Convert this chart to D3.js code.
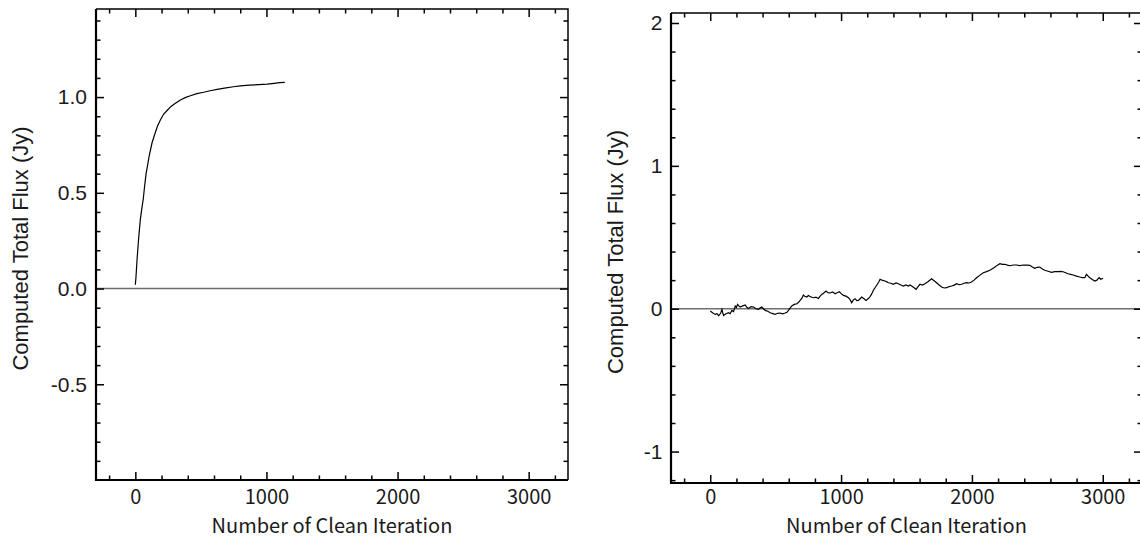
<!DOCTYPE html>
<html lang="en">
<head>
    <meta charset="UTF-8">
    <title>Clean iteration flux</title>
    <script src="https://d3js.org/d3.v7.min.js"></script>
    <style>
        body { margin: 0; background: #fff; }
        svg text { fill: #1a1a1a; }
        .xfont { font-family: "Noto Sans CJK JP", "Noto Sans", sans-serif; font-size: 20px; }
        .yfont { font-family: "Liberation Sans", Arial, sans-serif; font-size: 21px; }
    </style>
</head>
<body>
    <script>
        // left panel: flux converging
        var leftIter = [0, 5, 13, 25, 38, 50, 61, 70, 82, 90, 105, 127, 150, 170, 191, 215, 242, 270, 300, 344,
            380, 420, 470, 520, 570, 624, 680, 748, 800, 870, 940, 1005, 1060, 1100, 1140];
        var leftFlux = [0.02, 0.06, 0.15, 0.26, 0.36, 0.42, 0.47, 0.53, 0.60, 0.63, 0.69, 0.76, 0.81, 0.85, 0.88, 0.91, 0.93, 0.95, 0.965, 0.985,
            0.997, 1.007, 1.018, 1.025, 1.033, 1.040, 1.047, 1.054, 1.058, 1.062, 1.065, 1.068, 1.072, 1.075, 1.077];

        // right panel: flux wandering near zero
        var rightIter = [0, 20, 38, 52, 64, 80, 89, 96, 102, 120, 140, 152, 165, 178, 191, 200, 209, 220, 229, 248, 267, 280, 293, 312,
            331, 350, 369, 382, 394, 408, 420, 440, 458, 478, 496, 515, 534, 553, 573, 586, 598, 610, 623, 642, 662, 675, 687, 700,
            712, 725, 738, 750, 763, 776, 789, 808, 827, 840, 852, 868, 885, 900, 916, 935, 954, 970, 987, 1003, 1018, 1037, 1056,
            1070, 1081, 1094, 1107, 1120, 1132, 1145, 1158, 1175, 1191, 1204, 1216, 1232, 1247, 1262, 1277, 1290, 1298, 1318, 1336,
            1350, 1361, 1380, 1399, 1420, 1438, 1457, 1476, 1495, 1514, 1527, 1539, 1556, 1573, 1588, 1603, 1622, 1641, 1666, 1692,
            1711, 1730, 1749, 1768, 1788, 1807, 1826, 1845, 1864, 1883, 1902, 1921, 1940, 1959, 1978, 1997, 2016, 2036, 2062, 2087,
            2112, 2137, 2157, 2176, 2195, 2214, 2233, 2252, 2271, 2290, 2316, 2341, 2366, 2392, 2418, 2443, 2462, 2481, 2500, 2519,
            2538, 2557, 2582, 2608, 2634, 2659, 2678, 2697, 2716, 2735, 2755, 2774, 2799, 2824, 2844, 2863, 2875, 2888, 2901, 2920,
            2939, 2955, 2972, 2985, 3003];
        var rightFlux = [-0.016, -0.03, -0.04, -0.035, -0.05, -0.03, -0.005, -0.03, -0.047, -0.035, -0.028, -0.035, -0.012, -0.02, 0.019, 0.008, 0.03, 0.018, 0.012, 0.02, 0.026, 0.01, 0.002, 0.015,
            0.012, 0.0, -0.005, 0.006, 0.012, -0.002, -0.012, -0.018, -0.028, -0.034, -0.04, -0.032, -0.03, -0.036, -0.03, -0.025, -0.012, 0.004, 0.019, 0.03, 0.035, 0.045, 0.058, 0.072,
            0.096, 0.085, 0.082, 0.092, 0.086, 0.08, 0.077, 0.081, 0.072, 0.088, 0.10, 0.11, 0.124, 0.112, 0.11, 0.118, 0.105, 0.112, 0.119, 0.104, 0.093, 0.088, 0.077,
            0.062, 0.042, 0.062, 0.07, 0.056, 0.058, 0.07, 0.082, 0.07, 0.058, 0.068, 0.077, 0.1, 0.129, 0.15, 0.171, 0.19, 0.206, 0.198, 0.194,
            0.188, 0.182, 0.178, 0.171, 0.18, 0.175, 0.166, 0.159, 0.166, 0.159, 0.166, 0.159, 0.148, 0.136, 0.155, 0.171, 0.166, 0.175, 0.19, 0.21,
            0.196, 0.182, 0.166, 0.152, 0.145, 0.147, 0.155, 0.159, 0.165, 0.175, 0.168, 0.171, 0.178, 0.182, 0.18, 0.187, 0.2, 0.217, 0.235, 0.252,
            0.26, 0.269, 0.28, 0.292, 0.305, 0.315, 0.31, 0.311, 0.305, 0.301, 0.306, 0.306, 0.302, 0.306, 0.305, 0.304, 0.292, 0.283, 0.29, 0.292,
            0.278, 0.269, 0.262, 0.255, 0.259, 0.259, 0.262, 0.259, 0.252, 0.245, 0.24, 0.236, 0.228, 0.222, 0.218, 0.217, 0.241, 0.228, 0.217, 0.205,
            0.194, 0.2, 0.217, 0.206, 0.213];

        var xMajor = [0, 1000, 2000, 3000];
        var xMinor = [-200, 200, 400, 600, 800, 1200, 1400, 1600, 1800, 2200, 2400, 2600, 2800, 3200];
        var leftYMajor = [-0.5, 0.0, 0.5, 1.0];
        var leftYMinor = [-0.9, -0.8, -0.7, -0.6, -0.4, -0.3, -0.2, -0.1, 0.1, 0.2, 0.3, 0.4, 0.6, 0.7, 0.8, 0.9, 1.1, 1.2, 1.3, 1.4];
        var leftYLabels = ['-0.5', '0.0', '0.5', '1.0'];
        var rightYMajor = [-1, 0, 1, 2];
        var rightYMinor = [-1.2, -0.8, -0.6, -0.4, -0.2, 0.2, 0.4, 0.6, 0.8, 1.2, 1.4, 1.6, 1.8];
        var rightYLabels = ['-1', '0', '1', '2'];

        var xTitle = 'Number of Clean Iteration';
        var yTitle = 'Computed Total Flux (Jy)';

        var svg = d3.select('body')
            .append('svg')
            .attr('width', 1140)
            .attr('height', 542);

        function drawPanel(p) {
            var x = d3.scaleLinear().domain([-300, 3300]).range([p.left, p.right]);
            var y = d3.scaleLinear().domain(p.yDomain).range([p.bottom, p.top]);
            var g = svg.append('g');

            // zero line
            g.append('line')
                .attr('x1', p.left).attr('x2', p.right)
                .attr('y1', y(0)).attr('y2', y(0))
                .attr('stroke', '#6e6e6e')
                .attr('stroke-width', 1.6);

            var line = d3.line()
                .x(function(d) { return x(d[0]); })
                .y(function(d) { return y(d[1]); });

            g.append('path')
                .datum(d3.zip(p.iter, p.flux))
                .attr('d', line)
                .attr('fill', 'none')
                .attr('stroke', '#000')
                .attr('stroke-width', 1.2);

            function addAxis(axis, tx, ty, cls) {
                var a = g.append('g')
                    .attr('transform', 'translate(' + tx + ',' + ty + ')')
                    .call(axis);
                a.select('.domain').remove();
                a.attr('font-family', null).attr('font-size', null);
                a.selectAll('line').attr('stroke', '#000').attr('stroke-width', 1.5);
                a.selectAll('text').attr('class', cls);
                return a;
            }

            // bottom
            addAxis(d3.axisBottom(x).tickValues(xMajor).tickSize(-8).tickPadding(24 - p.bottom + 480).tickFormat(d3.format('d')), 0, p.bottom, 'xfont')
                .selectAll('text').attr('dy', null);
            addAxis(d3.axisBottom(x).tickValues(xMinor).tickSize(-4.5).tickFormat(''), 0, p.bottom, 'xfont');
            // top
            addAxis(d3.axisTop(x).tickValues(xMajor).tickSize(-8).tickFormat(''), 0, p.top, 'xfont');
            addAxis(d3.axisTop(x).tickValues(xMinor).tickSize(-4.5).tickFormat(''), 0, p.top, 'xfont');
            // left
            addAxis(d3.axisLeft(y).tickValues(p.yMajor).tickSize(-8).tickPadding(p.yPad)
                .tickFormat(function(d, i) { return p.yLabels[i]; }), p.left, 0, 'yfont');
            addAxis(d3.axisLeft(y).tickValues(p.yMinor).tickSize(-4.5).tickFormat(''), p.left, 0, 'yfont');
            // right
            addAxis(d3.axisRight(y).tickValues(p.yMajor).tickSize(-8).tickFormat(''), p.right, 0, 'yfont');
            addAxis(d3.axisRight(y).tickValues(p.yMinor).tickSize(-4.5).tickFormat(''), p.right, 0, 'yfont');

            // frame
            g.append('path')
                .attr('d', 'M' + p.left + ',' + p.top + 'H' + p.right + 'V' + p.bottom)
                .attr('fill', 'none').attr('stroke', '#000').attr('stroke-width', 1.5);
            g.append('path')
                .attr('d', 'M' + p.left + ',' + p.top + 'V' + p.bottom + 'H' + p.right)
                .attr('fill', 'none').attr('stroke', '#000').attr('stroke-width', 2.2);

            g.append('text')
                .attr('class', 'xfont')
                .attr('x', (p.left + p.right) / 2)
                .attr('y', 533)
                .attr('text-anchor', 'middle')
                .text(xTitle);

            g.append('text')
                .attr('class', 'yfont')
                .attr('transform', 'translate(' + p.titleX + ',' + ((p.top + p.bottom) / 2 + 4) + ') rotate(-90)')
                .attr('text-anchor', 'middle')
                .style('font-size', '22px')
                .text(yTitle);
        }

        drawPanel({
            left: 96, right: 568, top: 9, bottom: 480,
            yDomain: [-1.0, 1.46],
            yMajor: leftYMajor, yMinor: leftYMinor, yLabels: leftYLabels,
            iter: leftIter, flux: leftFlux,
            yPad: 9, titleX: 28
        });

        drawPanel({
            left: 671, right: 1142, top: 13, bottom: 483,
            yDomain: [-1.22, 2.07],
            yMajor: rightYMajor, yMinor: rightYMinor, yLabels: rightYLabels,
            iter: rightIter, flux: rightFlux,
            yPad: 8.5, titleX: 623
        });
    </script>
</body>
</html>
